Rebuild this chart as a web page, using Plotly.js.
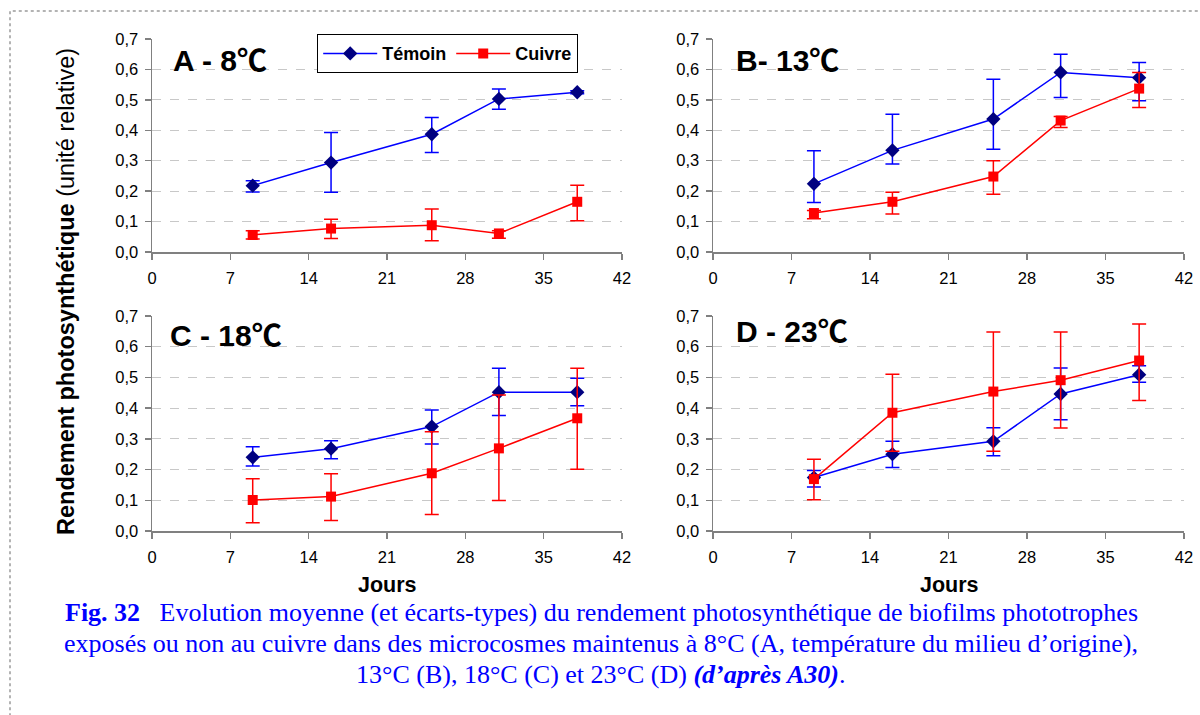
<!DOCTYPE html>
<html>
<head>
<meta charset="utf-8">
<script src="https://cdn.plot.ly/plotly-3.0.1.min.js"></script>
<style>html,body{margin:0;padding:0;background:#fff;}#chart{width:1200px;height:715px;}</style>
</head>
<body>
<div id="chart"></div>
<script>
// ---- Data (days of sampling) ----
const days = [9, 16, 25, 31, 38];
const xTicks = [0, 7, 14, 21, 28, 35, 42];
const yTicks = [0, 0.1, 0.2, 0.3, 0.4, 0.5, 0.6, 0.7];
const seriesNames = ["Témoin", "Cuivre"];
const panelLabels = ["A - 8\u2103", "B- 13\u2103", "C - 18\u2103", "D - 23\u2103"];

// Panel A (8°C)
const temoinA    = [0.218, 0.294, 0.387, 0.503, 0.525];
const temoinA_hi = [0.234, 0.393, 0.442, 0.536, 0.530];
const temoinA_lo = [0.197, 0.196, 0.327, 0.469, 0.520];
const cuivreA    = [0.056, 0.077, 0.088, 0.061, 0.165];
const cuivreA_hi = [0.070, 0.108, 0.141, 0.070, 0.219];
const cuivreA_lo = [0.043, 0.044, 0.037, 0.045, 0.103];
// Panel B (13°C)
const temoinB    = [0.224, 0.334, 0.437, 0.590, 0.573];
const temoinB_hi = [0.333, 0.453, 0.568, 0.650, 0.623];
const temoinB_lo = [0.163, 0.289, 0.338, 0.508, 0.497];
const cuivreB    = [0.128, 0.165, 0.248, 0.432, 0.537];
const cuivreB_hi = [0.136, 0.196, 0.300, 0.445, 0.590];
const cuivreB_lo = [0.109, 0.125, 0.190, 0.409, 0.475];
// Panel C (18°C)
const temoinC    = [0.240, 0.268, 0.340, 0.452, 0.452];
const temoinC_hi = [0.274, 0.294, 0.394, 0.530, 0.497];
const temoinC_lo = [0.212, 0.235, 0.283, 0.376, 0.408];
const cuivreC    = [0.101, 0.112, 0.188, 0.269, 0.367];
const cuivreC_hi = [0.170, 0.186, 0.323, 0.443, 0.530];
const cuivreC_lo = [0.027, 0.034, 0.054, 0.099, 0.201];
// Panel D (23°C)
const temoinD    = [0.174, 0.250, 0.292, 0.446, 0.509];
const temoinD_hi = [0.197, 0.292, 0.336, 0.531, 0.538];
const temoinD_lo = [0.143, 0.207, 0.245, 0.362, 0.484];
const cuivreD    = [0.169, 0.385, 0.454, 0.491, 0.555];
const cuivreD_hi = [0.234, 0.510, 0.648, 0.648, 0.674];
const cuivreD_lo = [0.102, 0.260, 0.260, 0.335, 0.425];

// ---- Styles ----
const BLUE = "#0000FF", NAVY = "#000080", RED = "#FF0000";
const FONT = "Liberation Sans, Arial, sans-serif";
const LABELFONT = "Liberation Sans, Noto Sans CJK JP, Arial, sans-serif";
const SERIF = "Liberation Serif, Times New Roman, serif";

const panels = [
  {t: temoinA, th: temoinA_hi, tl: temoinA_lo, c: cuivreA, ch: cuivreA_hi, cl: cuivreA_lo},
  {t: temoinB, th: temoinB_hi, tl: temoinB_lo, c: cuivreB, ch: cuivreB_hi, cl: cuivreB_lo},
  {t: temoinC, th: temoinC_hi, tl: temoinC_lo, c: cuivreC, ch: cuivreC_hi, cl: cuivreC_lo},
  {t: temoinD, th: temoinD_hi, tl: temoinD_lo, c: cuivreD, ch: cuivreD_hi, cl: cuivreD_lo}
];

function errs(v, hi, lo) {
  return {
    type: "data", symmetric: false,
    array: hi.map((h, i) => +(h - v[i]).toFixed(4)),
    arrayminus: lo.map((l, i) => +(v[i] - l).toFixed(4))
  };
}

const traces = [];
panels.forEach((p, k) => {
  const sfx = k === 0 ? "" : String(k + 1);
  traces.push({
    x: days, y: p.t, xaxis: "x" + sfx, yaxis: "y" + sfx,
    type: "scatter", mode: "lines+markers", name: "<b>" + seriesNames[0] + "</b>",
    showlegend: k === 0, legendrank: 1,
    line: {color: BLUE, width: 1.5},
    marker: {symbol: "diamond", size: 11, color: NAVY},
    error_y: Object.assign(errs(p.t, p.th, p.tl), {color: BLUE, thickness: 1.5, width: 7})
  });
  traces.push({
    x: days, y: p.c, xaxis: "x" + sfx, yaxis: "y" + sfx,
    type: "scatter", mode: "lines+markers", name: "<b>" + seriesNames[1] + "</b>",
    showlegend: k === 0, legendrank: 2,
    line: {color: RED, width: 1.5},
    marker: {symbol: "square", size: 10, color: RED},
    error_y: Object.assign(errs(p.c, p.ch, p.cl), {color: RED, thickness: 1.5, width: 7})
  });
});

// ---- Layout geometry (pixels -> paper fractions) ----
const W = 1200, H = 715;
const colX = [[152, 622], [713, 1184]];
const rowY = [[39, 252], [316, 531]];
function xd(c) { return [colX[c][0] / W, colX[c][1] / W]; }
function yd(r) { return [1 - rowY[r][1] / H, 1 - rowY[r][0] / H]; }

function xaxis(c, anchor) {
  return {
    domain: xd(c), anchor: anchor, range: [0, 42], tickmode: "array", tickvals: xTicks,
    ticktext: xTicks.map(String),
    showline: true, linecolor: "#808080", linewidth: 1.5,
    ticks: "outside", ticklen: 6, tickcolor: "#808080", tickwidth: 1.5,
    showgrid: false, zeroline: false, fixedrange: true,
    tickfont: {family: FONT, size: 16.5, color: "#000"}, ticklabelstandoff: 5
  };
}
function yaxis(r, anchor) {
  return {
    domain: yd(r), anchor: anchor, range: [0, 0.7], tickmode: "array", tickvals: yTicks,
    tickformat: ".1f",
    showline: true, linecolor: "#808080", linewidth: 1.5,
    ticks: "outside", ticklen: 6, tickcolor: "#808080", tickwidth: 1.5,
    showgrid: true, gridcolor: "#c8c8c8", griddash: "dash", gridwidth: 1,
    zeroline: false, fixedrange: true,
    tickfont: {family: FONT, size: 16.5, color: "#000"}, ticklabelstandoff: 3
  };
}

const labelPos = [[171, 60], [734, 60], [168, 335], [734, 331]];
const annotations = panelLabels.map((t, i) => ({
  text: "<b>" + t + "</b>", xref: "paper", yref: "paper",
  x: labelPos[i][0] / W, y: 1 - labelPos[i][1] / H, xanchor: "left", yanchor: "middle",
  showarrow: false, font: {family: LABELFONT, size: 30, color: "#000"}
}));
annotations.push({
  text: "<b>Rendement photosynthétique</b> (unité relative)", xref: "paper", yref: "paper",
  x: 66 / W, y: 1 - 292 / H, xanchor: "center", yanchor: "middle", textangle: -90,
  showarrow: false, font: {family: FONT, size: 23.5, color: "#000"}
});
[387, 949].forEach(cx => annotations.push({
  text: "<b>Jours</b>", xref: "paper", yref: "paper", x: cx / W, y: 1 - 585 / H,
  xanchor: "center", yanchor: "middle", showarrow: false, borderpad: 0,
  font: {family: FONT, size: 21.5, color: "#000"}
}));
const captionLines = [
  "<b>Fig. 32</b>   Evolution moyenne (et écarts-types) du rendement photosynthétique de biofilms phototrophes",
  "exposés ou non au cuivre dans des microcosmes maintenus à 8°C (A, température du milieu d’origine),",
  "13°C (B), 18°C (C) et 23°C (D) <b><i>(d’après A30)</i></b>."
];
const captionY = [612, 643, 674];
captionLines.forEach((t, i) => annotations.push({
  text: t, xref: "paper", yref: "paper", x: 601 / W, y: 1 - captionY[i] / H,
  xanchor: "center", yanchor: "middle", showarrow: false, borderpad: 0,
  font: {family: SERIF, size: 26, color: "#0000FF"}
}));

const layout = {
  width: W, height: H, margin: {l: 0, r: 0, t: 0, b: 0},
  paper_bgcolor: "#fff", plot_bgcolor: "#fff",
  separators: ", ", showlegend: true,
  xaxis: xaxis(0, "y"), yaxis: yaxis(0, "x"),
  xaxis2: xaxis(1, "y2"), yaxis2: yaxis(0, "x2"),
  xaxis3: xaxis(0, "y3"), yaxis3: yaxis(1, "x3"),
  xaxis4: xaxis(1, "y4"), yaxis4: yaxis(1, "x4"),
  legend: {
    orientation: "h", x: 317 / W, y: 1 - 34 / H, xanchor: "left", yanchor: "top",
    bgcolor: "#fff", bordercolor: "#000", borderwidth: 1.2,
    font: {family: FONT, size: 18, color: "#000"}, itemwidth: 54, tracegroupgap: 0
  },
  annotations: annotations,
  shapes: [{
    type: "rect", xref: "paper", yref: "paper",
    x0: 10 / W, x1: 1.05, y0: -0.05, y1: 1 - 11 / H,
    line: {color: "#9a9a9a", width: 1.5, dash: "dot"}, layer: "below"
  }]
};

Plotly.newPlot("chart", traces, layout, {displayModeBar: false, staticPlot: true});
</script>
</body>
</html>
